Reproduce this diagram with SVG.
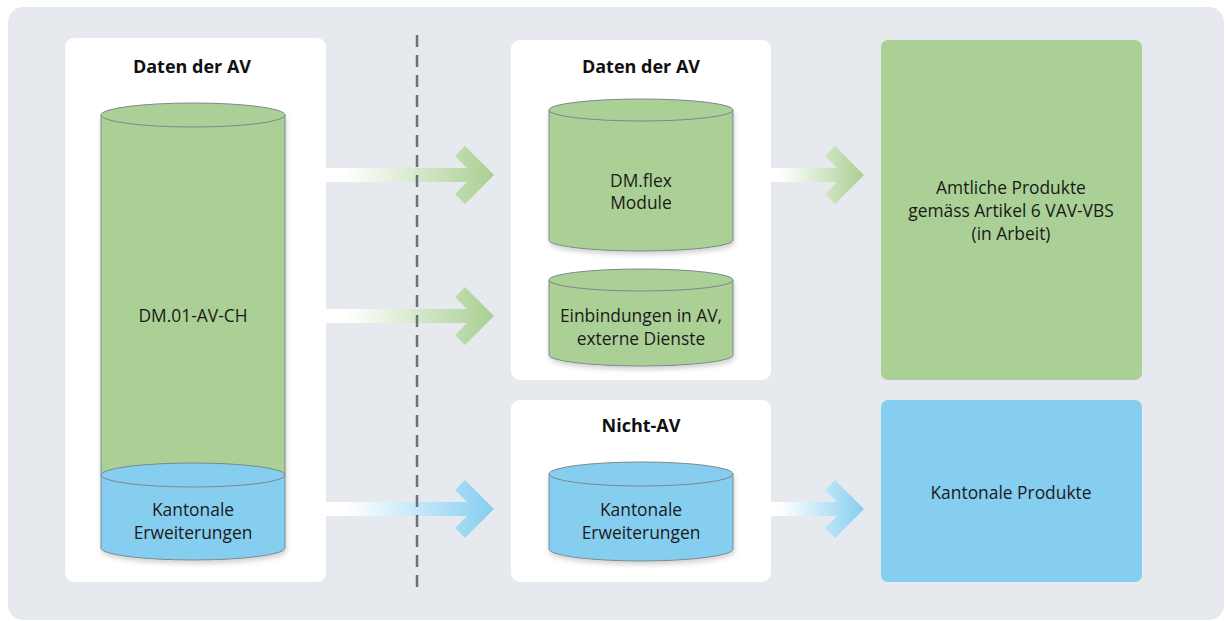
<svg xmlns="http://www.w3.org/2000/svg" width="1227" height="621" viewBox="0 0 1227 621">
<defs>
<style>
.panel{fill:#ffffff}
.title{font-family:"Open Sans","Noto Sans",sans-serif;font-weight:bold;font-size:18px;fill:#111;text-anchor:middle}
.lbl{font-family:"Open Sans","Noto Sans",sans-serif;font-size:17.4px;fill:#1a1a1a;text-anchor:middle}
.cyl{stroke:#7d8790;stroke-width:1}
.g{fill:#abd096}
.b{fill:#86cef0}
</style>
<linearGradient id="gg1" gradientUnits="userSpaceOnUse" x1="326" y1="0" x2="494" y2="0">
<stop offset="0" stop-color="#ffffff"/><stop offset="0.12" stop-color="#ffffff"/><stop offset="1" stop-color="#a9cf92"/>
</linearGradient>
<linearGradient id="gb1" gradientUnits="userSpaceOnUse" x1="326" y1="0" x2="494" y2="0">
<stop offset="0" stop-color="#ffffff"/><stop offset="0.12" stop-color="#ffffff"/><stop offset="1" stop-color="#86cef0"/>
</linearGradient>
<linearGradient id="gg2" gradientUnits="userSpaceOnUse" x1="771" y1="0" x2="864" y2="0">
<stop offset="0" stop-color="#ffffff"/><stop offset="0.1" stop-color="#ffffff"/><stop offset="1" stop-color="#a9cf92"/>
</linearGradient>
<linearGradient id="gb2" gradientUnits="userSpaceOnUse" x1="771" y1="0" x2="864" y2="0">
<stop offset="0" stop-color="#ffffff"/><stop offset="0.1" stop-color="#ffffff"/><stop offset="1" stop-color="#86cef0"/>
</linearGradient>
<filter id="sh" x="-10%" y="-10%" width="120%" height="120%">
<feDropShadow dx="1" dy="3" stdDeviation="2.5" flood-color="#000" flood-opacity="0.18"/>
</filter>
</defs>
<rect x="8" y="7" width="1216" height="613" rx="15" fill="#e6eaee"/>

<g id="connectors">
<path d="M326,168 H467 L455,156 L465,146 L494,175 L465,204 L455,194 L467,182 H326 Z" fill="url(#gg1)"/>
<path d="M326,309 H467 L455,297 L465,287 L494,316 L465,345 L455,335 L467,323 H326 Z" fill="url(#gg1)"/>
<path d="M326,502 H467 L455,490 L465,480 L494,509 L465,538 L455,528 L467,516 H326 Z" fill="url(#gb1)"/>
<path d="M771,168 H837 L825,156 L835,146 L864,175 L835,204 L825,194 L837,182 H771 Z" fill="url(#gg2)"/>
<path d="M771,502 H837 L825,490 L835,480 L864,509 L835,538 L825,528 L837,516 H771 Z" fill="url(#gb2)"/>
<line x1="417" y1="35" x2="417" y2="587" stroke="#6b7179" stroke-width="2.5" stroke-dasharray="12 8"/>
</g>

<g id="panel-left">
<rect class="panel" x="65" y="38" width="261" height="544" rx="9"/>
<text class="title" x="192" y="73">Daten der AV</text>
</g>

<g id="cyl-dm01">
<g filter="url(#sh)">
<path class="cyl g" d="M101,115 V475 H285 V115 Z"/>
<path class="cyl b" d="M101,475 V548 A92,12 0 0 0 285,548 V475 Z"/>
</g>
<ellipse class="cyl g" cx="193" cy="115" rx="92" ry="12"/>
<ellipse class="cyl b" cx="193" cy="475" rx="92" ry="12"/>
<text class="lbl" x="193" y="322">DM.01-AV-CH</text>
<text class="lbl" x="193" y="516">Kantonale</text>
<text class="lbl" x="193" y="539">Erweiterungen</text>
</g>

<g id="panel-mid-top">
<rect class="panel" x="511" y="40" width="260" height="340" rx="9"/>
<text class="title" x="641" y="73">Daten der AV</text>
</g>

<g id="cyl-dmflex">
<path class="cyl g" filter="url(#sh)" d="M549,110 V240 A92,11 0 0 0 733,240 V110 Z"/>
<ellipse class="cyl g" cx="641" cy="110" rx="92" ry="11"/>
<text class="lbl" x="641" y="187">DM.flex</text>
<text class="lbl" x="641" y="209">Module</text>
</g>

<g id="cyl-einbindungen">
<path class="cyl g" filter="url(#sh)" d="M549,280 V355 A92,11 0 0 0 733,355 V280 Z"/>
<ellipse class="cyl g" cx="641" cy="280" rx="92" ry="11"/>
<text class="lbl" x="641" y="322">Einbindungen in AV,</text>
<text class="lbl" x="641" y="345">externe Dienste</text>
</g>

<g id="panel-mid-bottom">
<rect class="panel" x="511" y="400" width="260" height="182" rx="9"/>
<text class="title" x="641" y="432">Nicht-AV</text>
</g>

<g id="cyl-kantonal">
<path class="cyl b" filter="url(#sh)" d="M549,474 V549 A92,12 0 0 0 733,549 V474 Z"/>
<ellipse class="cyl b" cx="641" cy="474" rx="92" ry="12"/>
<text class="lbl" x="641" y="516">Kantonale</text>
<text class="lbl" x="641" y="539">Erweiterungen</text>
</g>

<g id="box-amtlich">
<rect x="881" y="40" width="261" height="340" rx="7" fill="#abd096"/>
<text class="lbl" x="1011" y="194">Amtliche Produkte</text>
<text class="lbl" x="1011" y="217">gemäss Artikel 6 VAV-VBS</text>
<text class="lbl" x="1011" y="240">(in Arbeit)</text>
</g>

<g id="box-kantonal">
<rect x="881" y="400" width="261" height="182" rx="7" fill="#86cef0"/>
<text class="lbl" x="1011" y="499">Kantonale Produkte</text>
</g>
</svg>
